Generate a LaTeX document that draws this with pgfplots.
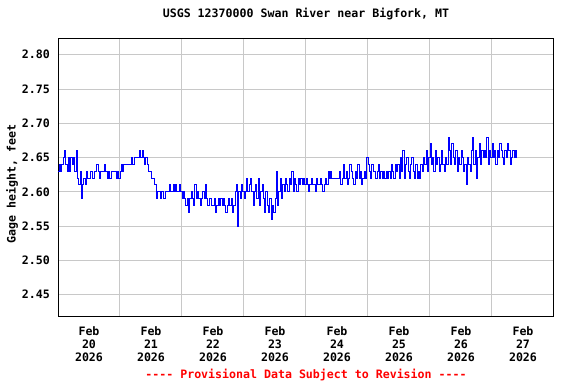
\documentclass[border=0pt]{standalone}
\usepackage{pgfplots}
\usepackage{pgfplotstable}
\pgfplotsset{compat=1.18}
\usepackage{fontspec}
\setmonofont{DejaVu Sans Mono}
\newcommand\lf{\fontsize{11.6bp}{13bp}\selectfont\ttfamily\bfseries}
\definecolor{gridc}{RGB}{200,200,200}
\pgfplotstableread[row sep=\\, header=false]{
2.63\\2.64\\2.63\\
2.64\\2.65\\2.66\\2.64\\2.63\\2.65\\2.63\\2.65\\2.64\\2.65\\2.63\\2.66\\
2.62\\2.61\\2.63\\2.59\\2.61\\2.62\\2.61\\2.63\\2.62\\
2.62\\2.63\\2.63\\2.62\\2.63\\2.63\\2.64\\2.63\\2.62\\2.63\\2.63\\2.63\\2.64\\2.63\\2.62\\2.63\\2.62\\2.63\\2.63\\2.63\\2.63\\2.62\\2.63\\
2.62\\2.63\\2.64\\2.63\\2.64\\2.64\\
2.64\\2.64\\2.64\\2.64\\
2.65\\2.64\\2.65\\2.65\\2.65\\2.65\\2.66\\
2.65\\2.66\\2.65\\2.64\\2.65\\
2.64\\2.63\\2.63\\
2.62\\2.62\\2.62\\2.61\\
2.59\\
2.60\\2.60\\2.59\\2.60\\2.60\\2.59\\2.60\\2.60\\2.60\\
2.61\\2.60\\2.60\\2.61\\2.60\\2.61\\2.60\\2.60\\2.61\\2.60\\
2.59\\2.60\\2.59\\2.58\\2.59\\2.57\\2.59\\2.60\\2.59\\2.58\\2.61\\2.59\\2.60\\2.59\\2.58\\2.59\\2.60\\2.59\\2.61\\2.59\\2.58\\2.59\\
2.59\\2.58\\2.58\\2.59\\2.57\\2.58\\2.59\\2.58\\2.59\\
2.58\\2.59\\2.58\\2.57\\2.58\\2.59\\2.58\\2.59\\2.57\\2.58\\
2.60\\2.61\\
2.55\\2.60\\
2.59\\2.61\\2.60\\2.59\\2.60\\2.62\\2.60\\2.61\\2.62\\2.60\\
2.58\\2.60\\2.61\\2.59\\2.62\\2.58\\2.60\\2.61\\2.59\\2.57\\2.60\\
2.58\\2.57\\2.59\\2.56\\2.58\\2.57\\
2.59\\2.63\\2.58\\2.60\\2.62\\2.59\\2.61\\2.60\\2.62\\
2.61\\2.60\\2.62\\2.61\\2.63\\2.60\\2.62\\2.61\\2.60\\2.62\\2.61\\2.62\\2.61\\2.62\\
2.61\\2.62\\2.61\\2.60\\2.61\\2.62\\2.61\\2.61\\2.60\\2.62\\2.61\\2.61\\2.62\\2.61\\2.60\\2.61\\2.62\\2.61\\
2.63\\2.62\\2.63\\2.62\\2.62\\2.62\\2.62\\2.62\\2.62\\
2.63\\2.61\\2.62\\2.64\\2.62\\2.63\\2.61\\2.62\\2.64\\2.63\\2.62\\2.61\\2.63\\2.62\\2.64\\2.62\\2.63\\2.61\\2.62\\2.63\\2.62\\
2.65\\
2.64\\2.63\\2.62\\2.64\\2.63\\2.63\\2.62\\2.63\\2.64\\2.62\\2.63\\2.62\\2.63\\2.62\\2.63\\2.62\\
2.63\\2.62\\2.64\\2.63\\2.62\\2.64\\2.63\\
2.64\\2.62\\2.65\\2.63\\2.66\\2.62\\2.64\\2.65\\2.63\\2.62\\2.64\\2.65\\
2.63\\2.62\\2.64\\2.62\\2.63\\2.62\\2.64\\2.63\\2.65\\
2.64\\2.66\\2.63\\2.65\\2.67\\2.64\\2.65\\2.63\\2.66\\2.64\\2.65\\2.63\\2.64\\2.66\\2.64\\2.63\\2.65\\2.64\\
2.68\\
2.66\\2.64\\2.67\\2.65\\2.64\\2.66\\2.63\\2.65\\2.64\\2.66\\2.65\\2.63\\2.64\\2.61\\2.65\\2.64\\2.63\\
2.66\\2.68\\2.64\\2.66\\2.62\\2.65\\2.67\\2.64\\2.66\\2.65\\
2.66\\2.65\\2.68\\2.64\\2.66\\2.65\\2.67\\2.65\\2.66\\2.64\\2.66\\2.65\\2.67\\2.66\\2.65\\2.64\\2.66\\2.65\\2.67\\2.66\\2.64\\2.65\\2.66\\2.65\\2.66\\2.65\\
}\gage
\begin{document}
\begin{tikzpicture}
\useasboundingbox (0,0) rectangle (576bp,384bp);
\begin{axis}[
  at={(58bp,68bp)}, anchor=south west,
  scale only axis, width=496bp, height=277bp,
  xmin=0, xmax=8, ymin=2.4187, ymax=2.823,
  xtick={0.5,1.5,2.5,3.5,4.5,5.5,6.5,7.5},
  xticklabels={{Feb\\20\\2026},{Feb\\21\\2026},{Feb\\22\\2026},{Feb\\23\\2026},{Feb\\24\\2026},{Feb\\25\\2026},{Feb\\26\\2026},{Feb\\27\\2026}},
  xticklabel style={align=center, font=\lf, inner sep=0pt, anchor=north, yshift=-10bp},
  minor xtick={1,2,3,4,5,6,7},
  xminorgrids,
  ytick={2.45,2.50,2.55,2.60,2.65,2.70,2.75,2.80},
  ymajorgrids,
  major grid style={draw=gridc, line width=1bp},
  minor grid style={draw=gridc, line width=1bp},
  major tick length=0pt, minor tick length=0pt,
  axis line style={line width=1bp},
  yticklabel style={font=\lf, inner sep=0pt, anchor=east, xshift=-8bp},
  yticklabel={\pgfmathprintnumber[fixed,fixed zerofill,precision=2,assume math mode=true]{\tick}},
  title={USGS 12370000 Swan River near Bigfork, MT},
  title style={font=\lf, at={(0.5,1)}, anchor=center, yshift=19bp, inner sep=0pt},
  ylabel={Gage height, feet},
  ylabel style={font=\lf, at={(axis description cs:-0.0927,0.4765)}, anchor=center, inner sep=0pt},
  clip mode=individual,
]
\addplot[const plot, color=blue, line width=0.9bp] table[x expr=\coordindex/48, y index=0] {\gage};
\node[font=\lf, text=red, anchor=center] at (axis description cs:0.5,-0.213) {---- Provisional Data Subject to Revision ----};
\end{axis}
\end{tikzpicture}
\end{document}
